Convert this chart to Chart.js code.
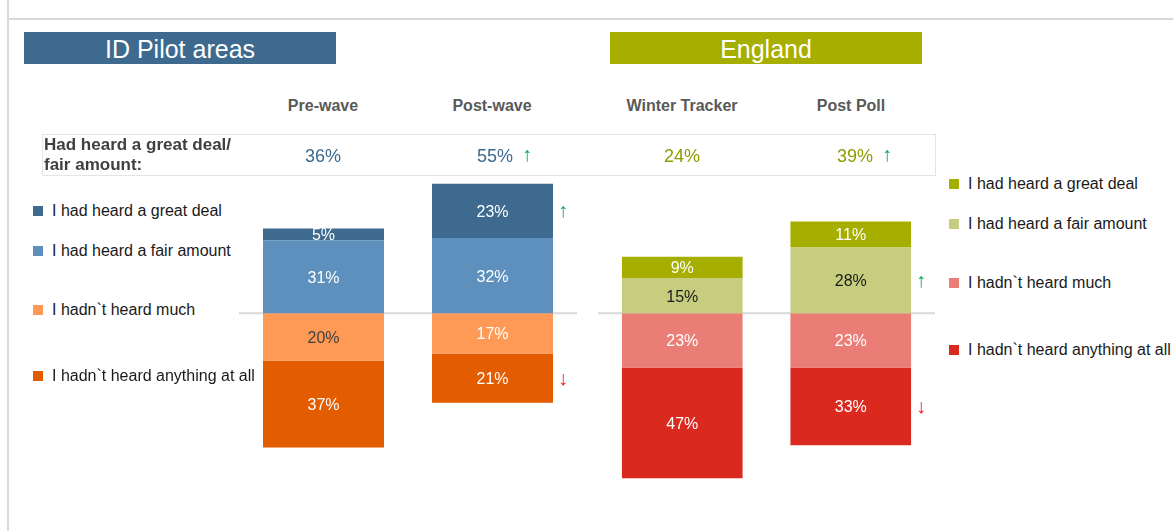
<!DOCTYPE html>
<html>
<head>
<meta charset="utf-8">
<script src="https://cdn.jsdelivr.net/npm/chart.js@4/dist/chart.umd.min.js"></script>
<style>
  body { margin:0; background:#fff; font-family:"Liberation Sans", Arial, sans-serif; }
  #page { position:relative; width:1173px; height:531px; overflow:hidden; }
  .abs { position:absolute; white-space:nowrap; }
  .frameV { left:7px; top:0; width:2px; height:531px; background:#d9d9d9; }
  .frameH { left:7px; top:18px; width:1166px; height:2px; background:#d9d9d9; }
  .title { top:32px; height:32px; line-height:35px; color:#fff; font-size:25px; text-align:center; }
  .col { top:97px; font-size:16px; font-weight:bold; color:#595959; transform:translateX(-50%); }
  .rowbox { left:42px; top:134px; width:892px; height:40px; border:1px solid #e4e4e4; }
  .rowlabel { left:44px; top:135px; font-size:17px; font-weight:bold; color:#404040; line-height:20px; }
  .total { top:146px; font-size:18px; transform:translateX(-50%); }
  .tarrow { top:143px; font-size:20px; color:#00b050; }
  .leg { font-size:16px; color:#1a1a1a; line-height:18px; }
  .sq { width:10px; height:10px; }
  canvas { position:absolute; }
</style>
</head>
<body>
<div id="page">
  <div class="abs frameV"></div>
  <div class="abs frameH"></div>
  <canvas id="pilot-chart" width="338" height="318" style="left:239px; top:172px;"></canvas>
  <canvas id="england-chart" width="337" height="318" style="left:598px; top:172px;"></canvas>
</div>
<script>
// categories
const groupTitles = ['ID Pilot areas', 'England'];
const pilotWaves = ['Pre-wave', 'Post-wave'];
const englandWaves = ['Winter Tracker', 'Post Poll'];
const answerLabels = ['I had heard a great deal', 'I had heard a fair amount', 'I hadn`t heard much', 'I hadn`t heard anything at all'];

// series values (%)
const pilotGreatDeal = [5, 23];
const pilotFairAmount = [31, 32];
const pilotNotMuch = [20, 17];
const pilotNothing = [37, 21];
const englandGreatDeal = [9, 11];
const englandFairAmount = [15, 28];
const englandNotMuch = [23, 23];
const englandNothing = [47, 33];

// "had heard a great deal / fair amount" totals
const pilotHeardTotal = [36, 55];
const englandHeardTotal = [24, 39];

// significant changes (arrows)
const pilotTotalChange = ['', 'up'];
const englandTotalChange = ['', 'up'];
const pilotGreatDealChange = ['', 'up'];
const pilotNothingChange = ['', 'down'];
const englandFairAmountChange = ['', 'up'];
const englandNothingChange = ['', 'down'];

// colours
const pilotColors = ['#3d6a8e', '#5d90bd', '#ff9a56', '#e35c00'];
const englandColors = ['#a6ae00', '#c6cd7e', '#eb7d77', '#da2a20'];
const pilotText = '#3d6a8e';
const englandText = '#8f9c00';
const FONT = '"Liberation Sans", Arial, sans-serif';

const page = document.getElementById('page');
function addText(cls, html, style){
  const d = document.createElement('div');
  d.className = 'abs ' + cls;
  d.innerHTML = html;
  Object.assign(d.style, style || {});
  page.appendChild(d);
  return d;
}

// headings
addText('title', groupTitles[0], {left:'24px', width:'312px', background:'#3d6a8e'});
addText('title', groupTitles[1], {left:'610px', width:'312px', background:'#a6ae00'});

const colCenters = [323, 492, 682, 851];
pilotWaves.concat(englandWaves).forEach((w, i) => addText('col', w, {left: colCenters[i] + 'px'}));

// totals row
addText('rowbox', '');
addText('rowlabel', 'Had heard a great deal/<br>fair amount:');
const arrowChar = {up:'&#8593;', down:'&#8595;'};
function renderTotals(values, changes, offset, color, shift){
  values.forEach((v, i) => {
    const cx = colCenters[i + offset] + (changes[i] ? shift : 0);
    addText('total', v + '%', {left: cx + 'px', color});
    if(changes[i]) addText('tarrow', arrowChar[changes[i]], {left: (cx + 27) + 'px'});
  });
}
renderTotals(pilotHeardTotal, pilotTotalChange, 0, pilotText, 3);
renderTotals(englandHeardTotal, englandTotalChange, 2, englandText, 4);

// legends
function renderLegend(x, ys, colors){
  answerLabels.forEach((lbl, i) => {
    addText('sq', '', {left: x + 'px', top: (ys[i] - 5) + 'px', background: colors[i]});
    addText('leg', lbl, {left: (x + 19) + 'px', top: (ys[i] - 9) + 'px'});
  });
}
renderLegend(33, [211, 251, 310, 376], pilotColors);
renderLegend(949, [184, 224, 283, 350], englandColors);

// bar labels + arrows + zero line
const barDecor = {
  id: 'barDecor',
  beforeDatasetsDraw(chart){
    const {ctx, chartArea, scales} = chart;
    const y0 = scales.y.getPixelForValue(0);
    ctx.save();
    ctx.strokeStyle = '#d9d9d9';
    ctx.lineWidth = 2;
    ctx.beginPath();
    ctx.moveTo(chartArea.left, y0);
    ctx.lineTo(chartArea.right, y0);
    ctx.stroke();
    ctx.restore();
  },
  afterDatasetsDraw(chart){
    const {ctx} = chart;
    ctx.save();
    ctx.textAlign = 'center';
    ctx.textBaseline = 'middle';
    chart.data.datasets.forEach((ds, di) => {
      const meta = chart.getDatasetMeta(di);
      meta.data.forEach((bar, i) => {
        const cy = (bar.y + bar.base) / 2;
        ctx.font = '16px ' + FONT;
        ctx.fillStyle = ds.labelColors[i];
        ctx.fillText(Math.abs(ds.data[i]) + '%', bar.x, cy + 1.5);
        const ch = ds.changes && ds.changes[i];
        if(ch){
          ctx.font = '20px ' + FONT;
          ctx.fillStyle = ch === 'up' ? '#00b050' : '#ff1a1a';
          ctx.fillText(ch === 'up' ? '\u2191' : '\u2193', bar.x + bar.width / 2 + 10, cy + 1);
        }
      });
    });
    ctx.restore();
  }
};

function drawStack(canvasId, labels, great, fair, notMuch, nothing, colors, labelColors, changes){
  const neg = arr => arr.map(v => -v);
  const sets = [
    {label: answerLabels[1], data: fair, backgroundColor: colors[1], labelColors: labelColors[1], changes: changes[1]},
    {label: answerLabels[0], data: great, backgroundColor: colors[0], labelColors: labelColors[0], changes: changes[0]},
    {label: answerLabels[2], data: neg(notMuch), backgroundColor: colors[2], labelColors: labelColors[2], changes: changes[2]},
    {label: answerLabels[3], data: neg(nothing), backgroundColor: colors[3], labelColors: labelColors[3], changes: changes[3]},
  ];
  new Chart(document.getElementById(canvasId).getContext('2d'), {
    type: 'bar',
    data: {
      labels,
      datasets: sets.map(s => Object.assign({barPercentage: 1, categoryPercentage: 0.716, borderWidth: 0}, s))
    },
    options: {
      responsive: false,
      animation: false,
      devicePixelRatio: 1,
      layout: {padding: 0},
      plugins: {legend: {display: false}, tooltip: {enabled: false}},
      scales: {
        x: {display: false, stacked: true},
        y: {display: false, stacked: true, min: -75, max: 60}
      }
    },
    plugins: [barDecor]
  });
}

drawStack('pilot-chart', pilotWaves, pilotGreatDeal, pilotFairAmount, pilotNotMuch, pilotNothing, pilotColors,
  [['#fff', '#fff'], ['#fff', '#fff'], ['#404040', '#fff'], ['#fff', '#fff']],
  [pilotGreatDealChange, null, null, pilotNothingChange]);

drawStack('england-chart', englandWaves, englandGreatDeal, englandFairAmount, englandNotMuch, englandNothing, englandColors,
  [['#fff', '#fff'], ['#1a1a1a', '#1a1a1a'], ['#fff', '#fff'], ['#fff', '#fff']],
  [null, englandFairAmountChange, null, englandNothingChange]);
</script>
</body>
</html>
